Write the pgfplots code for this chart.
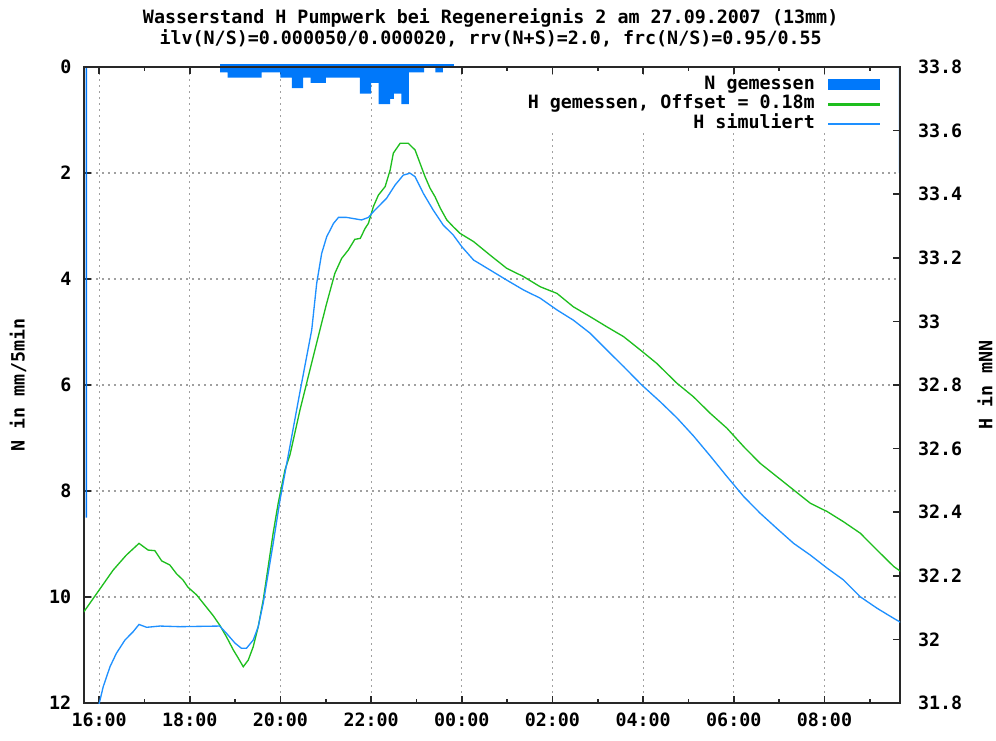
\documentclass[border=0pt]{standalone}
\usepackage{fontspec}
\setmainfont{DejaVu Sans Mono}
\usepackage{pgfplots}
\pgfplotsset{compat=1.18}
\usepackage{pgfplotstable}

\definecolor{rainblue}{RGB}{0,120,250}
\definecolor{simblue}{RGB}{30,144,255}
\definecolor{measgreen}{RGB}{30,190,30}
\definecolor{gridgray}{RGB}{160,160,160}
\definecolor{framecol}{RGB}{40,40,40}

% rainfall N [mm/5min], value held from the given time (hours since 0:00 of day 1)
\pgfplotstableread{
t N
18.667 0.1
18.833 0.2
19.583 0.1
20.000 0.2
20.250 0.4
20.500 0.2
20.667 0.3
21.000 0.2
21.750 0.5
22.000 0.3
22.167 0.7
22.417 0.6
22.500 0.5
22.667 0.7
22.833 0.1
23.167 0.0
23.417 0.1
23.583 0.0
23.833 0.0
}\rain

% measured water level H (with offset) [mNN]
\pgfplotstableread{
t H
15.66 32.086
16.00 32.155
16.31 32.218
16.60 32.265
16.88 32.302
17.08 32.281
17.23 32.279
17.38 32.247
17.56 32.234
17.71 32.206
17.85 32.187
17.96 32.164
18.15 32.140
18.33 32.108
18.52 32.074
18.66 32.045
18.81 32.008
18.96 31.967
19.07 31.941
19.18 31.914
19.29 31.935
19.40 31.977
19.51 32.040
19.62 32.124
19.73 32.229
19.84 32.335
19.95 32.428
20.10 32.533
20.21 32.580
20.43 32.721
20.65 32.847
20.87 32.973
21.02 33.057
21.20 33.151
21.35 33.198
21.50 33.225
21.64 33.258
21.76 33.261
21.87 33.293
21.94 33.308
22.05 33.361
22.16 33.397
22.31 33.424
22.42 33.476
22.49 33.529
22.64 33.560
22.82 33.560
22.97 33.539
23.08 33.497
23.19 33.455
23.30 33.419
23.41 33.392
23.53 33.355
23.67 33.319
23.81 33.298
23.96 33.277
24.26 33.251
24.62 33.209
24.99 33.167
25.36 33.141
25.73 33.109
26.10 33.088
26.46 33.046
26.83 33.015
27.20 32.983
27.57 32.952
27.94 32.910
28.30 32.868
28.75 32.805
29.11 32.763
29.48 32.711
29.85 32.664
30.22 32.606
30.58 32.554
30.95 32.512
31.32 32.470
31.69 32.428
32.06 32.402
32.42 32.370
32.79 32.334
33.16 32.281
33.53 32.229
33.70 32.212
}\hmeas

% simulated water level H [mNN]
\pgfplotstableread{
t H
15.97 31.780
16.02 31.809
16.09 31.851
16.24 31.914
16.38 31.956
16.57 31.998
16.75 32.024
16.88 32.047
17.05 32.038
17.34 32.042
17.78 32.040
18.66 32.042
18.81 32.019
19.00 31.988
19.14 31.972
19.25 31.972
19.40 31.998
19.51 32.040
19.62 32.114
19.73 32.208
19.84 32.302
19.99 32.438
20.21 32.608
20.43 32.778
20.69 32.973
20.80 33.120
20.91 33.214
21.02 33.266
21.17 33.308
21.28 33.327
21.46 33.327
21.79 33.319
21.94 33.327
22.05 33.345
22.34 33.387
22.53 33.429
22.71 33.460
22.86 33.466
22.97 33.455
23.15 33.403
23.37 33.350
23.59 33.303
23.81 33.272
24.00 33.235
24.26 33.193
24.62 33.162
24.99 33.130
25.36 33.099
25.73 33.073
26.10 33.036
26.46 33.004
26.83 32.963
27.20 32.910
27.57 32.858
27.97 32.800
28.38 32.747
28.75 32.696
29.11 32.640
29.48 32.577
29.85 32.512
30.22 32.449
30.58 32.397
30.95 32.349
31.32 32.302
31.69 32.265
32.06 32.224
32.42 32.187
32.79 32.134
33.16 32.098
33.53 32.066
33.70 32.052
}\hsim

\begin{document}
\begin{tikzpicture}[font=\fontsize{13.75}{16}\selectfont\bfseries]
\pgfplotsset{
  base/.style={
    scale only axis, width=612pt, height=477pt,
    at={(0pt,0pt)}, anchor=south west,
    xmin=15.6667, xmax=33.6667,
    axis line style={framecol, line width=1.2pt},
    tick style={framecol, line width=1.2pt},
    major tick length=5pt, minor tick length=3pt,
    /pgf/number format/assume math mode=true,
  }
}
% left axis: rainfall, reversed, with grid and time ticks
\begin{axis}[base,
  ymin=0, ymax=12, y dir=reverse,
  ytick={0,2,4,6,8,10,12}, ytick pos=left,
  xtick={16,18,20,22,24,26,28,30,32},
  xticklabels={16:00,18:00,20:00,22:00,00:00,02:00,04:00,06:00,08:00},
  minor xtick={17,19,21,23,25,27,29,31,33},
  xtick pos=both,
  xmajorgrids, ymajorgrids,
  grid style={gridgray, line width=0.8pt, dash pattern=on 1.5pt off 3pt},
  clip=false,
  xticklabel style={yshift=-4pt},
  yticklabel style={xshift=-6pt},
]
\addplot[const plot, fill=rainblue, draw=none] table[x=t, y=N] {\rain} \closedcycle;
\addplot[rainblue, line width=2.2pt] coordinates {(18.667,-0.035) (23.833,-0.035)};
\addplot[const plot, fill=rainblue, draw=none] coordinates {(15.70,8.5) (15.735,8.5)} \closedcycle;
\addplot[const plot, fill=rainblue, draw=none] coordinates {(33.64,2.0) (33.668,2.0)} \closedcycle;
\end{axis}
% right axis: water levels
\begin{axis}[base,
  ymin=31.8, ymax=33.8,
  ytick={31.8,32,32.2,32.4,32.6,32.8,33,33.2,33.4,33.6,33.8},
  ytick pos=right,
  xtick=\empty,
  yticklabel style={xshift=10pt},
  legend plot pos=right,
  legend cell align=right,
  legend style={draw=none, fill=white, inner sep=0pt,
    at={(rel axis cs:0.975,0.988)}, anchor=north east,
    row sep=0pt, font=\fontsize{13.75}{16}\selectfont\bfseries,
    nodes={text height=10pt, text depth=3pt, inner ysep=0.8pt},
    /tikz/every odd column/.append style={column sep=8pt}},
]
\addlegendimage{legend image code/.code={\fill[rainblue] (0pt,-3.75pt) rectangle (38pt,3.75pt);}}
\addlegendentry{N gemessen}
\addlegendimage{legend image code/.code={\fill[measgreen] (0pt,-0.55pt) rectangle (38pt,0.55pt);}}
\addlegendentry{H gemessen, Offset = 0.18m}
\addlegendimage{legend image code/.code={\fill[simblue] (0pt,-0.55pt) rectangle (38pt,0.55pt);}}
\addlegendentry{H simuliert}
\addplot[measgreen, line width=1pt, forget plot] table[x=t, y=H] {\hmeas};
\addplot[simblue, line width=1pt, forget plot] table[x=t, y=H] {\hsim};
\end{axis}
\node at (305pt,513.75pt) {Wasserstand H Pumpwerk bei Regenereignis 2 am 27.09.2007 (13mm)};
\node at (305pt,498.75pt) {ilv(N/S)=0.000050/0.000020, rrv(N+S)=2.0, frc(N/S)=0.95/0.55};
\node[rotate=90] at (-49.5pt,238.5pt) {N in mm/5min};
\node[rotate=90] at (675.75pt,238.5pt) {H in mNN};
\pgfresetboundingbox
\path[use as bounding box] (-63pt,-27.75pt) rectangle (684pt,527.25pt);
\end{tikzpicture}
\end{document}
